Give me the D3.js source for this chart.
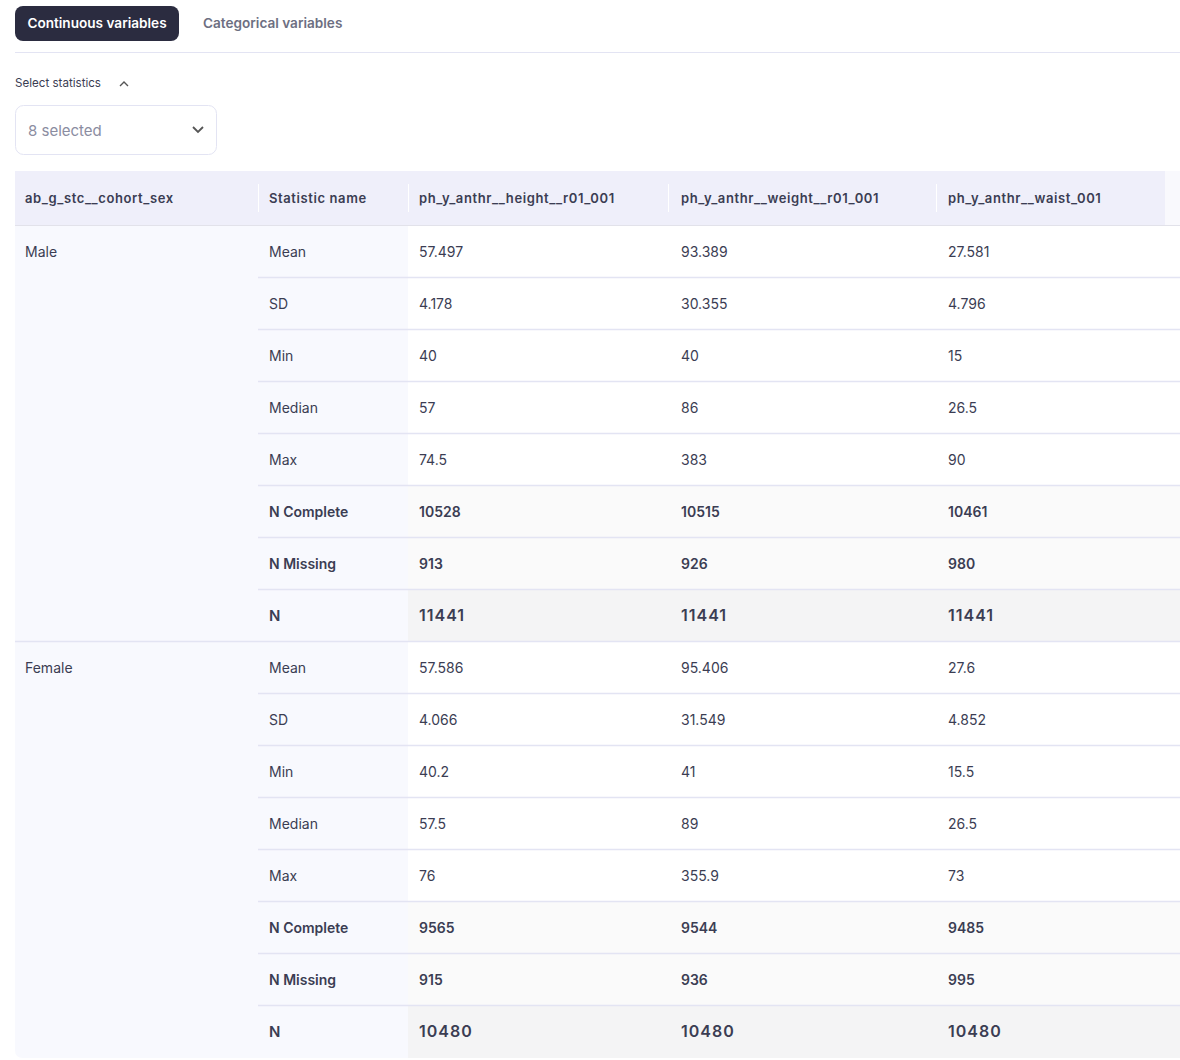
<!DOCTYPE html>
<html>
<head>
<meta charset="utf-8">
<script src="https://cdn.jsdelivr.net/npm/d3@7"></script>
<style>
  body { margin: 0; background: #fff; font-family: Inter, "Noto Sans", sans-serif; }
  svg { display: block; }
</style>
</head>
<body>
<svg id="chart" width="1180" height="1060"></svg>
<script>
// table data
var groups = ["Male", "Female"]
var statNames = ["Mean", "SD", "Min", "Median", "Max", "N Complete", "N Missing", "N"]
var variables = ["ph_y_anthr__height__r01_001", "ph_y_anthr__weight__r01_001", "ph_y_anthr__waist_001"]

var heightVals = [
  ["57.497", "4.178", "40", "57", "74.5", "10528", "913", "11441"],
  ["57.586", "4.066", "40.2", "57.5", "76", "9565", "915", "10480"]
]
var weightVals = [
  ["93.389", "30.355", "40", "86", "383", "10515", "926", "11441"],
  ["95.406", "31.549", "41", "89", "355.9", "9544", "936", "10480"]
]
var waistVals = [
  ["27.581", "4.796", "15", "26.5", "90", "10461", "980", "11441"],
  ["27.6", "4.852", "15.5", "26.5", "73", "9485", "995", "10480"]
]
var tabs = ["Continuous variables", "Categorical variables"]

var series = [heightVals, weightVals, waistVals]
var ink = "#3b3d53", line = "#e3e4f3"

var svg = d3.select("#chart")

// tabs
svg.append("rect").attr("x", 15).attr("y", 6).attr("width", 164).attr("height", 35)
  .attr("rx", 8).attr("fill", "#2b2c40")
svg.append("text").attr("x", 97).attr("y", 28).attr("text-anchor", "middle")
  .attr("fill", "#fff").attr("font-size", 13.6).attr("font-weight", 600).text(tabs[0])
svg.append("text").attr("x", 203).attr("y", 28)
  .attr("fill", "#6d6f82").attr("font-size", 13.6).attr("font-weight", 600).text(tabs[1])
svg.append("line").attr("x1", 15).attr("x2", 1180).attr("y1", 52.5).attr("y2", 52.5)
  .attr("stroke", line)

// statistics selector
svg.append("text").attr("x", 15).attr("y", 87).attr("fill", ink).attr("font-size", 11.6)
  .text("Select statistics")
svg.append("path").attr("d", "M120,86 L124,82 L128,86").attr("fill", "none")
  .attr("stroke", "#555").attr("stroke-width", 1.4)
svg.append("rect").attr("x", 15.5).attr("y", 105.5).attr("width", 201).attr("height", 49)
  .attr("rx", 8).attr("fill", "#fff").attr("stroke", line)
svg.append("text").attr("x", 28).attr("y", 136).attr("fill", "#8b8da1").attr("font-size", 15)
  .text("8 selected")
svg.append("path").attr("d", "M193,127 L198,132 L203,127").attr("fill", "none")
  .attr("stroke", "#555").attr("stroke-width", 1.8)

// columns
var colEdges = [15, 258, 408, 670, 937, 1180]
var headers = ["ab_g_stc__cohort_sex", "Statistic name"].concat(variables)

// rows
var rowKeys = []
groups.forEach(function(g, gi) {
  statNames.forEach(function(s, si) { rowKeys.push({ g: gi, s: si }) })
})
var y = d3.scaleBand().domain(d3.range(rowKeys.length)).range([226, 1058])
var rh = y.bandwidth()

// header
svg.append("rect").attr("x", 15).attr("y", 171).attr("width", 1150).attr("height", 54)
  .attr("fill", "#efeffa")
svg.append("rect").attr("x", 1165).attr("y", 171).attr("width", 15).attr("height", 54)
  .attr("fill", "#f9f9fd")
svg.append("line").attr("x1", 15).attr("x2", 1180).attr("y1", 225.5).attr("y2", 225.5)
  .attr("stroke", "#e2e2ea")
svg.selectAll(".hsep").data([258, 408, 668, 936]).enter().append("line")
  .attr("x1", function(d) { return d + 0.5 }).attr("x2", function(d) { return d + 0.5 })
  .attr("y1", 184).attr("y2", 212).attr("stroke", "#fff").attr("stroke-width", 1)
svg.selectAll(".htext").data(headers).enter().append("text")
  .attr("x", function(d, i) { return colEdges[i] + (i === 0 ? 10 : 11) })
  .attr("y", 203).attr("fill", ink).attr("font-size", 13).attr("font-weight", 600)
  .attr("letter-spacing", 0.6)
  .text(function(d) { return d })

// left columns background
var bodyTop = y(0), bodyBottom = y(rowKeys.length - 1) + rh
svg.append("path")
  .attr("d", "M15," + bodyTop + " H408 V" + bodyBottom + " H23 Q15," + bodyBottom + " 15," + (bodyBottom - 8) + " Z")
  .attr("fill", "#f8f9fe")

// data cell backgrounds
function cellFill(s) {
  if (s === 7) return "#f4f4f5"
  if (s >= 5) return "#fafafa"
  return "#fff"
}
svg.selectAll(".cellbg").data(rowKeys).enter().append("rect")
  .attr("x", 408).attr("width", 1180 - 408)
  .attr("y", function(d, i) { return y(i) }).attr("height", rh)
  .attr("fill", function(d) { return cellFill(d.s) })

// row lines
svg.selectAll(".rline").data(rowKeys.slice(1)).enter().append("line")
  .attr("x1", function(d) { return d.s === 0 ? 15 : 258 }).attr("x2", 1180)
  .attr("y1", function(d, i) { return y(i + 1) - 0.5 }).attr("y2", function(d, i) { return y(i + 1) - 0.5 })
  .attr("stroke", line).attr("stroke-width", 1.5)

// group labels
svg.selectAll(".glabel").data(groups).enter().append("text")
  .attr("x", 25).attr("y", function(d, i) { return y(i * statNames.length) + rh / 2 + 5 })
  .attr("fill", ink).attr("font-size", 14).text(function(d) { return d })

// stat labels
svg.selectAll(".slabel").data(rowKeys).enter().append("text")
  .attr("x", 269).attr("y", function(d, i) { return y(i) + rh / 2 + 5 })
  .attr("fill", ink).attr("font-size", function(d) { return d.s === 7 ? 15 : 14 })
  .attr("font-weight", function(d) { return d.s >= 5 ? 600 : 400 })
  .text(function(d) { return statNames[d.s] })

// values
series.forEach(function(vals, ci) {
  svg.selectAll(".val" + ci).data(rowKeys).enter().append("text")
    .attr("x", colEdges[ci + 2] + 11).attr("y", function(d, i) { return y(i) + rh / 2 + 5 })
    .attr("fill", ink).attr("font-size", function(d) { return d.s === 7 ? 16 : 14 })
    .attr("font-weight", function(d) { return d.s >= 5 ? 600 : 400 })
    .attr("letter-spacing", function(d) { return d.s === 7 ? 1 : 0 })
    .text(function(d) { return vals[d.g][d.s] })
})
</script>
</body>
</html>
